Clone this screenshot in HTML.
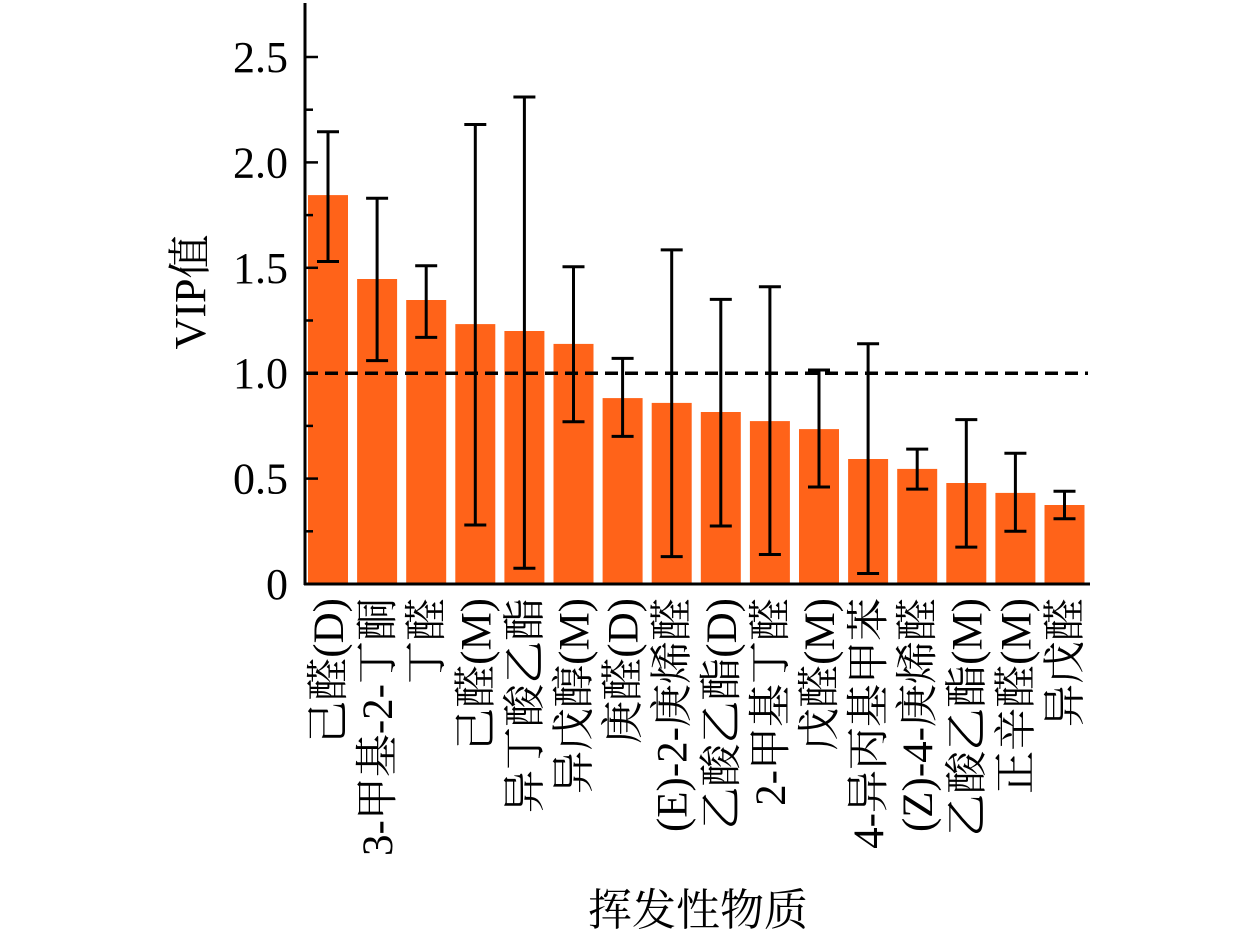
<!DOCTYPE html><html><head><meta charset="utf-8"><style>body{margin:0;background:#fff}svg{display:block}text{font-family:"Liberation Serif","Noto Serif CJK SC",serif;fill:#000}</style></head><body>
<svg width="1260" height="938" viewBox="0 0 1260 938" xmlns="http://www.w3.org/2000/svg">
<g fill="#ff6319">
<rect x="308" y="195.1" width="40" height="388.9"/>
<rect x="357.1" y="279" width="40" height="305"/>
<rect x="406.2" y="300" width="40" height="284"/>
<rect x="455.3" y="324.1" width="40" height="259.9"/>
<rect x="504.4" y="331" width="40" height="253"/>
<rect x="553.5" y="343.9" width="40" height="240.1"/>
<rect x="602.6" y="398.1" width="40" height="185.9"/>
<rect x="651.7" y="402.9" width="40" height="181.1"/>
<rect x="700.8" y="412" width="40" height="172"/>
<rect x="749.9" y="421.1" width="40" height="162.9"/>
<rect x="799" y="429.1" width="40" height="154.9"/>
<rect x="848.1" y="459" width="40" height="125"/>
<rect x="897.2" y="468.9" width="40" height="115.1"/>
<rect x="946.3" y="483" width="40" height="101"/>
<rect x="995.4" y="492.9" width="40" height="91.1"/>
<rect x="1044.5" y="505" width="40" height="79"/>
</g>
<line x1="305" y1="373.2" x2="1088" y2="373.2" stroke="#000" stroke-width="3.5" stroke-dasharray="13,7"/>
<g stroke="#000" stroke-width="3" fill="none">
<path d="M328 131.8V261.5M317 131.8H339M317 261.5H339"/>
<path d="M377.1 198.2V360.6M366.1 198.2H388.1M366.1 360.6H388.1"/>
<path d="M426.2 265.7V337.4M415.2 265.7H437.2M415.2 337.4H437.2"/>
<path d="M475.3 124.5V525M464.3 124.5H486.3M464.3 525H486.3"/>
<path d="M524.4 97V568.2M513.4 97H535.4M513.4 568.2H535.4"/>
<path d="M573.5 266.7V421.7M562.5 266.7H584.5M562.5 421.7H584.5"/>
<path d="M622.6 358.4V436.4M611.6 358.4H633.6M611.6 436.4H633.6"/>
<path d="M671.7 249.9V556.6M660.7 249.9H682.7M660.7 556.6H682.7"/>
<path d="M720.8 299.4V526M709.8 299.4H731.8M709.8 526H731.8"/>
<path d="M769.9 286.8V554.5M758.9 286.8H780.9M758.9 554.5H780.9"/>
<path d="M819 370V487M808 370H830M808 487H830"/>
<path d="M868.1 343.7V573.5M857.1 343.7H879.1M857.1 573.5H879.1"/>
<path d="M917.2 449.1V489.1M906.2 449.1H928.2M906.2 489.1H928.2"/>
<path d="M966.3 419.6V547.1M955.3 419.6H977.3M955.3 547.1H977.3"/>
<path d="M1015.4 453.3V531.3M1004.4 453.3H1026.4M1004.4 531.3H1026.4"/>
<path d="M1064.5 491.2V518.7M1053.5 491.2H1075.5M1053.5 518.7H1075.5"/>
</g>
<g stroke="#000" stroke-width="3">
<line x1="305" y1="3" x2="305" y2="585"/><line x1="304" y1="584" x2="1090" y2="584"/>
</g>
<g stroke="#000" stroke-width="2.5">
<line x1="305" y1="531.3" x2="313" y2="531.3"/><line x1="305" y1="478.6" x2="318" y2="478.6"/>
<line x1="305" y1="425.9" x2="313" y2="425.9"/><line x1="305" y1="373.2" x2="318" y2="373.2"/>
<line x1="305" y1="320.5" x2="313" y2="320.5"/><line x1="305" y1="267.8" x2="318" y2="267.8"/>
<line x1="305" y1="215.1" x2="313" y2="215.1"/><line x1="305" y1="162.4" x2="318" y2="162.4"/>
<line x1="305" y1="109.7" x2="313" y2="109.7"/><line x1="305" y1="57" x2="318" y2="57"/>
</g>
<g font-size="44" text-anchor="end">
<text x="288" y="599">0</text><text x="288" y="493.6">0.5</text><text x="288" y="388.2">1.0</text>
<text x="288" y="282.8">1.5</text><text x="288" y="177.4">2.0</text><text x="288" y="72">2.5</text>
</g>
<g font-size="43" text-anchor="end">
<text transform="translate(343,598) rotate(-90)">己醛(D)</text>
<text transform="translate(392.1,598) rotate(-90)">3-甲基-2-丁酮</text>
<text transform="translate(441.2,598) rotate(-90)">丁醛</text>
<text transform="translate(490.3,598) rotate(-90)">己醛(M)</text>
<text transform="translate(539.4,598) rotate(-90)">异丁酸乙酯</text>
<text transform="translate(588.5,598) rotate(-90)">异戊醇(M)</text>
<text transform="translate(637.6,598) rotate(-90)">庚醛(D)</text>
<text transform="translate(686.7,598) rotate(-90)">(E)-2-庚烯醛</text>
<text transform="translate(735.8,598) rotate(-90)">乙酸乙酯(D)</text>
<text transform="translate(784.9,598) rotate(-90)">2-甲基丁醛</text>
<text transform="translate(834,598) rotate(-90)">戊醛(M)</text>
<text transform="translate(883.1,598) rotate(-90)">4-异丙基甲苯</text>
<text transform="translate(932.2,598) rotate(-90)">(Z)-4-庚烯醛</text>
<text transform="translate(981.3,598) rotate(-90)">乙酸乙酯(M)</text>
<text transform="translate(1030.4,598) rotate(-90)">正辛醛(M)</text>
<text transform="translate(1079.5,598) rotate(-90)">异戊醛</text>
</g>
<text transform="translate(205,292) rotate(-90)" text-anchor="middle" font-size="44">VIP值</text>
<text x="698" y="925" text-anchor="middle" font-size="44">挥发性物质</text>
</svg></body></html>
